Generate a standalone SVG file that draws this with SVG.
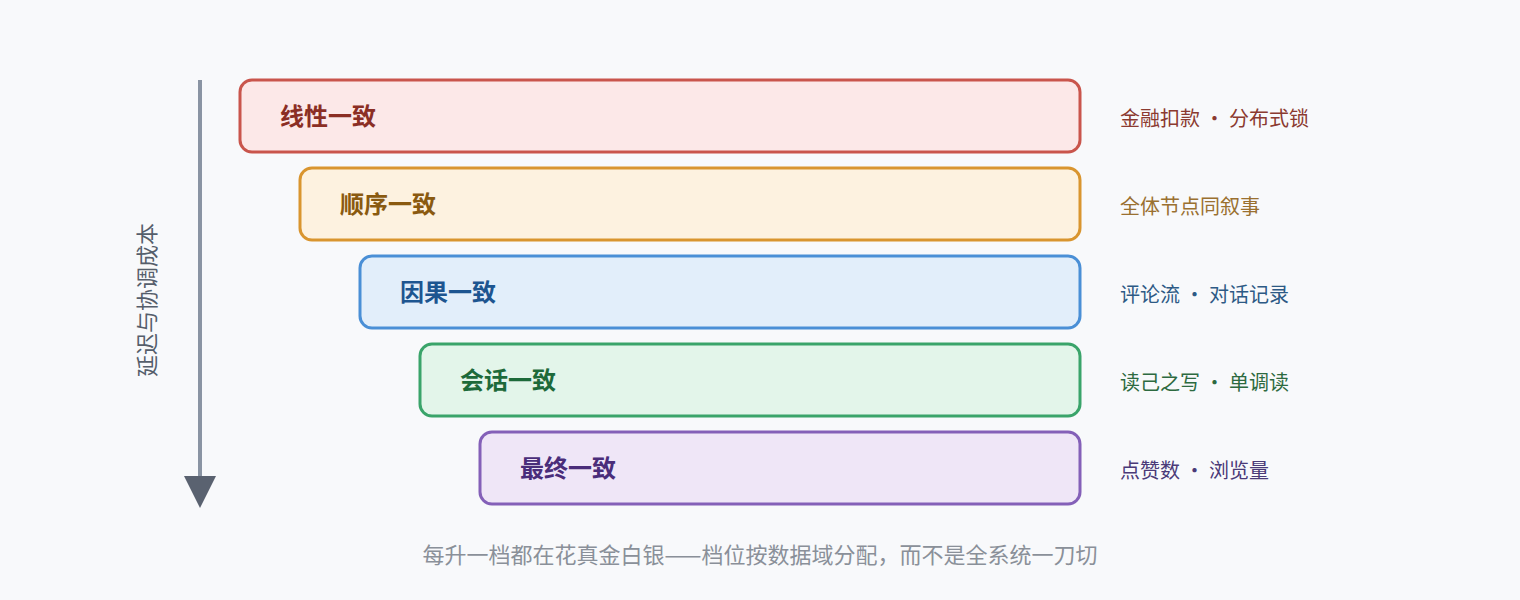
<svg xmlns="http://www.w3.org/2000/svg" width="1520" height="600" viewBox="0 0 1520 600">
<style>
text{font-family:"Noto Sans CJK SC","Noto Sans",sans-serif}
.box{stroke-width:3}
.t{font-size:24px;font-weight:bold}
.s{font-size:20px}
</style>
<rect width="1520" height="600" fill="#f8f9fb"/>
<g id="connectors">
<line x1="200" y1="80" x2="200" y2="480" stroke="#8a94a3" stroke-width="4"/>
<polygon points="184,476 216,476 200,508" fill="#5a6270"/>
</g>
<text x="155" y="300" font-size="22" fill="#555e6b" text-anchor="middle" transform="rotate(-90 155 300)">延迟与协调成本</text>
<g id="linear"><rect class="box" x="240" y="80" width="840" height="72" rx="12" fill="#fce8e8" stroke="#c9554c"/><text class="t" x="280" y="125" fill="#8b2e24">线性一致</text><text class="s" x="1120" y="126" fill="#8b3a30">金融扣款 · 分布式锁</text></g>
<g id="sequential"><rect class="box" x="300" y="168" width="780" height="72" rx="12" fill="#fdf2e0" stroke="#d9952f"/><text class="t" x="340" y="213" fill="#8a5a10">顺序一致</text><text class="s" x="1120" y="214" fill="#9a7030">全体节点同叙事</text></g>
<g id="causal"><rect class="box" x="360" y="256" width="720" height="72" rx="12" fill="#e2eefa" stroke="#4a8fd6"/><text class="t" x="400" y="301" fill="#1d5590">因果一致</text><text class="s" x="1120" y="302" fill="#2d5a85">评论流 · 对话记录</text></g>
<g id="session"><rect class="box" x="420" y="344" width="660" height="72" rx="12" fill="#e3f5ea" stroke="#3aa46a"/><text class="t" x="460" y="389" fill="#1d6a3a">会话一致</text><text class="s" x="1120" y="390" fill="#2d6a40">读己之写 · 单调读</text></g>
<g id="eventual"><rect class="box" x="480" y="432" width="600" height="72" rx="12" fill="#efe6f7" stroke="#8460b8"/><text class="t" x="520" y="477" fill="#4a2d7a">最终一致</text><text class="s" x="1120" y="478" fill="#4a3a78">点赞数 · 浏览量</text></g>
<text x="760" y="563" font-size="22" fill="#8a9099" text-anchor="middle">每升一档都在花真金白银——档位按数据域分配，而不是全系统一刀切</text>
</svg>
